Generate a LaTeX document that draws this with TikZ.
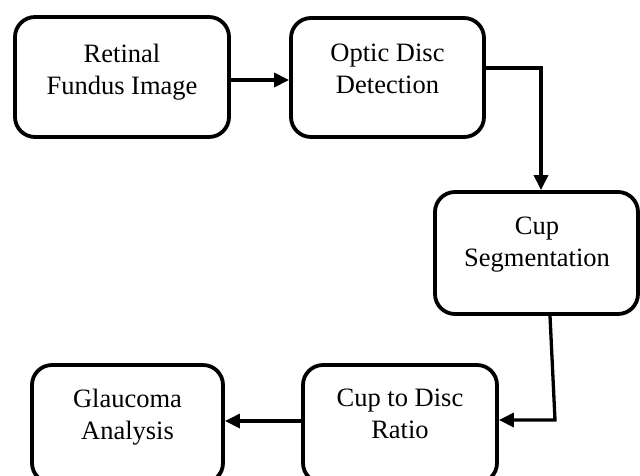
\documentclass[tikz,border=0pt]{standalone}
\usepackage{fontspec}
\setmainfont{Liberation Serif}
\usetikzlibrary{arrows.meta,calc}
\begin{document}
\begin{tikzpicture}[x=1pt,y=-1pt,
  box/.style={draw=black, line width=3.8pt, rounded corners=20pt, fill=white, inner sep=0pt},
  lbl/.style={anchor=north, align=center, inner sep=0pt, font=\fontsize{26.5}{31.5}\selectfont},
  conn/.style={draw=black, line width=3.3pt, -{Triangle[length=15pt,width=14pt]}}]
\useasboundingbox (0,0) rectangle (640,475);
% boxes
\node[box, minimum width=214pt, minimum height=120pt] (b1) at (122,77) {};
\node[box, minimum width=193pt, minimum height=119pt] (b2) at (387.5,77.5) {};
\node[box, minimum width=203pt, minimum height=122pt] (b3) at (536.5,253) {};
\node[box, minimum width=194pt, minimum height=118pt] (b4) at (400,424) {};
\node[box, minimum width=191pt, minimum height=118pt] (b5) at (127.5,424) {};
% labels
\node[lbl] (t1) at (122,44) {Retinal\\Fundus Image};
\node[lbl] (t2) at (387.5,44) {Optic Disc\\Detection};
\node[lbl] (t3) at (537,217) {Cup\\Segmentation};
\node[lbl] (t4) at (400,389) {Cup to Disc\\Ratio};
\node[lbl] (t5) at (127.5,389) {Glaucoma\\Analysis};
% connectors
\coordinate (c1) at (555,420);
\draw[conn] ([yshift=-3pt]b1.east) -- ([yshift=-3pt]b1.east -| b2.west);
\draw[conn] ([yshift=9.5pt]b2.east) -| ([xshift=4.5pt]b3.north);
\draw[conn] ([xshift=13.5pt]b3.south) -- (c1) -- (c1 -| b4.east);
\draw[conn] ([yshift=3pt]b4.west) -- ([yshift=3pt]b4.west -| b5.east);
\end{tikzpicture}
\end{document}
